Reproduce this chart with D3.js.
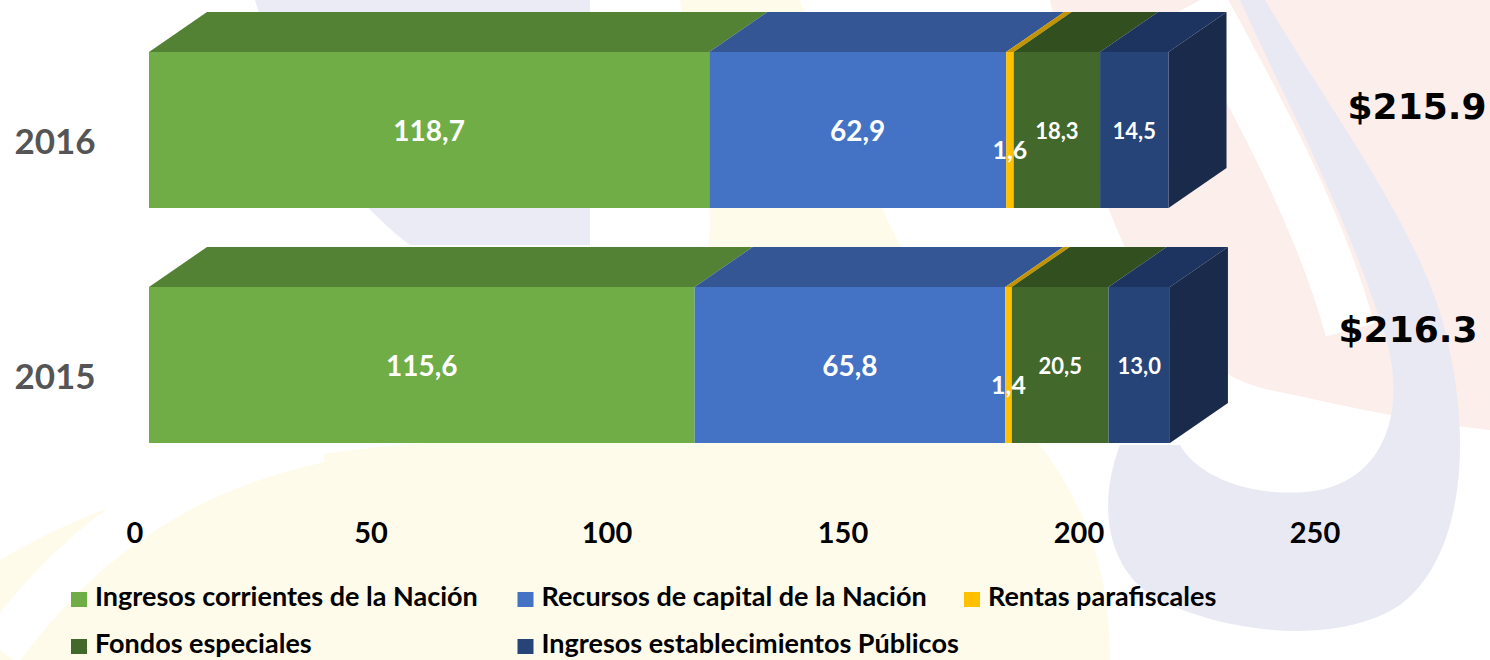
<!DOCTYPE html>
<html>
<head>
<meta charset="utf-8">
<script src="https://cdn.jsdelivr.net/npm/d3@7"></script>
<style>
  body { margin: 0; background: #fff; }
  svg { display: block; }
</style>
</head>
<body>
<svg id="chart" width="1490" height="660"></svg>
<script>
// values (billions of pesos)
const years = ["2016", "2015"];
const series = [
  "Ingresos corrientes de la Nación",
  "Recursos de capital de la Nación",
  "Rentas parafiscales",
  "Fondos especiales",
  "Ingresos establecimientos Públicos"
];
const values2016 = [118.7, 62.9, 1.6, 18.3, 14.5];
const values2015 = [115.6, 65.8, 1.4, 20.5, 13.0];
const totals = ["$215.9", "$216.3"];
const xTicks = [0, 50, 100, 150, 200, 250];

const frontColors = ["#70AD47", "#4472C4", "#FFC000", "#43682B", "#264478"];
const topColors = ["#548235", "#345694", "#C49400", "#324F20", "#1D3461"];
const sideColor = "#1A2A4A";

const svg = d3.select("#chart");

// faint watermark behind the chart
const bg = svg.append("g").attr("class", "watermark");
bg.append("path")
  .attr("d", "M680,0 L800,0 C840,100 880,250 1000,400 C1080,480 1110,560 1110,660 L0,660 L0,560 C150,470 350,440 520,440 C650,420 740,300 700,150 Z")
  .attr("fill", "#FFFBEA");
bg.append("path")
  .attr("d", "M0,650 C80,540 180,470 320,440")
  .attr("fill", "none").attr("stroke", "#fff").attr("stroke-width", 45);
bg.append("path")
  .attr("d", "M1050,0 L1490,0 L1490,430 C1400,420 1320,400 1270,390 C1180,370 1110,280 1050,0 Z")
  .attr("fill", "#FBEEEB");
bg.append("path")
  .attr("d", "M1200,0 C1260,110 1320,220 1350,330")
  .attr("fill", "none").attr("stroke", "#fff").attr("stroke-width", 50);
bg.append("path")
  .attr("d", "M1240,0 L1265,0 C1330,110 1420,230 1445,330 C1475,450 1460,560 1400,605 C1340,645 1230,635 1160,600 C1110,575 1095,510 1120,445 L1180,445 C1200,480 1260,500 1320,490 C1390,475 1410,400 1380,320 C1340,200 1290,110 1240,0 Z")
  .attr("fill", "#E9E9F4");
bg.append("path")
  .attr("d", "M255,0 L590,0 L590,245 L410,245 C350,200 290,120 255,0 Z")
  .attr("fill", "#EBEBF5");

// scales
const x = d3.scaleLinear().domain([0, 250]).range([149, 1329]);
const y = d3.scaleBand().domain(years).range([52, 443]).paddingInner(79 / 235).paddingOuter(0);
const dx = 58, dy = 40;

const rows = years.map((yr, i) => {
  const vals = i === 0 ? values2016 : values2015;
  let acc = 0;
  const segs = vals.map((v, j) => {
    const s = { year: yr, key: series[j], value: v, x0: acc, x1: acc + v, idx: j };
    acc += v;
    return s;
  });
  return { year: yr, segs, total: totals[i], end: acc };
});

const bars = svg.append("g").attr("class", "bars");

rows.forEach((row) => {
  const yt = y(row.year), yb = yt + y.bandwidth();
  const g = bars.append("g");

  // top faces
  g.selectAll(".top")
    .data(row.segs)
    .enter()
    .append("path")
    .attr("class", "top")
    .attr("d", (d) => `M${x(d.x0)},${yt}L${x(d.x1)},${yt}L${x(d.x1) + dx},${yt - dy}L${x(d.x0) + dx},${yt - dy}Z`)
    .attr("fill", (d) => topColors[d.idx]);

  // right side of the stack
  const xe = x(row.end);
  g.append("path")
    .attr("d", `M${xe},${yt}L${xe + dx},${yt - dy}L${xe + dx},${yb - dy}L${xe},${yb}Z`)
    .attr("fill", sideColor);

  // front faces
  g.selectAll(".front")
    .data(row.segs)
    .enter()
    .append("rect")
    .attr("class", "front")
    .attr("x", (d) => x(d.x0))
    .attr("y", yt)
    .attr("width", (d) => x(d.x1) - x(d.x0))
    .attr("height", y.bandwidth())
    .attr("fill", (d) => frontColors[d.idx]);

  // value labels
  g.selectAll(".val")
    .data(row.segs)
    .enter()
    .append("text")
    .attr("class", "val")
    .attr("x", (d) => (x(d.x0) + x(d.x1)) / 2)
    .attr("y", (d) => yt + (d.value < 5 ? 107 : d.value < 30 ? 87 : 89))
    .attr("text-anchor", "middle")
    .attr("fill", "#fff")
    .style("font-family", "Lato, 'Open Sans', sans-serif")
    .style("font-weight", "700")
    .style("font-size", (d) => (d.value < 5 ? "25px" : d.value < 30 ? "22px" : "28px"))
    .text((d) => d3.format(".1f")(d.value).replace(".", ","));

  // year label
  svg.append("text")
    .attr("x", 55)
    .attr("y", yt + 102)
    .attr("text-anchor", "middle")
    .attr("fill", "#555")
    .style("font-family", "Lato, 'Open Sans', sans-serif")
    .style("font-weight", "700")
    .style("font-size", "35px")
    .text(row.year);
});

// totals on the right
const totalPos = [{ x: 1417, dy: -11 }, { x: 1408, dy: -23 }];
svg.selectAll(".total")
  .data(rows)
  .enter()
  .append("text")
  .attr("class", "total")
  .attr("x", (d, i) => totalPos[i].x)
  .attr("y", (d, i) => y(d.year) + y.bandwidth() / 2 + totalPos[i].dy)
  .attr("text-anchor", "middle")
  .attr("fill", "#000")
  .style("font-family", "'DejaVu Sans', Verdana, sans-serif")
  .style("font-weight", "700")
  .style("font-size", "36px")
  .text((d) => d.total);

// x axis labels (floor is set a bit forward of the bars)
svg.append("g")
  .selectAll("text")
  .data(xTicks)
  .enter()
  .append("text")
  .attr("x", (d) => x(d) - 14)
  .attr("y", 543)
  .attr("text-anchor", "middle")
  .attr("fill", "#000")
  .style("font-family", "Lato, 'Open Sans', sans-serif")
  .style("font-weight", "700")
  .style("font-size", "29px")
  .text((d) => d);

// legend, 3 columns
const legend = svg.append("g").attr("class", "legend");
const items = legend.selectAll("g")
  .data(series)
  .enter()
  .append("g")
  .attr("transform", (d, i) => `translate(${71 + (i % 3) * 446.5},${592 + Math.floor(i / 3) * 47})`);
items.append("rect")
  .attr("width", 16)
  .attr("height", 15)
  .attr("fill", (d, i) => frontColors[i]);
items.append("text")
  .attr("x", 24)
  .attr("y", 14)
  .attr("fill", "#000")
  .style("font-family", "Lato, 'Open Sans', sans-serif")
  .style("font-weight", "700")
  .style("font-size", "27px")
  .text((d) => d);
</script>
</body>
</html>
